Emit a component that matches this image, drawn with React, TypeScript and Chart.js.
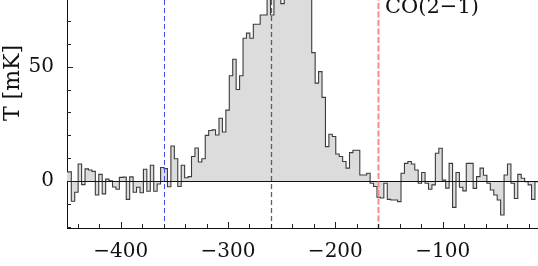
import React, { useEffect, useRef } from "react";
import { Chart, registerables } from "chart.js";

Chart.register(...registerables);

// Channel centre velocities (km/s)
const velocities = [
  -450.8, -447.6, -444.4, -441.2, -438.0, -434.8, -431.6, -428.4, -425.2, -422.0,
  -418.8, -415.6, -412.4, -409.2, -406.0, -402.8, -399.6, -396.4, -393.2, -390.0,
  -386.8, -383.6, -380.4, -377.2, -374.0, -370.8, -367.6, -364.4, -361.2, -358.0,
  -354.8, -351.6, -348.4, -345.2, -342.0, -338.8, -335.6, -332.4, -329.2, -326.0,
  -322.8, -319.6, -316.4, -313.2, -310.0, -306.8, -303.6, -300.4, -297.2, -294.0,
  -290.8, -287.6, -284.4, -281.2, -278.0, -274.8, -271.6, -268.4, -265.2, -262.0,
  -258.8, -255.6, -252.4, -249.2, -246.0, -242.8, -239.6, -236.4, -233.2, -230.0,
  -226.8, -223.6, -220.4, -217.2, -214.0, -210.8, -207.6, -204.4, -201.2, -198.0,
  -194.8, -191.6, -188.4, -185.2, -182.0, -178.8, -175.6, -172.4, -169.2, -166.0,
  -162.8, -159.6, -156.4, -153.2, -150.0, -146.8, -143.6, -140.4, -137.2, -134.0,
  -130.8, -127.6, -124.4, -121.2, -118.0, -114.8, -111.6, -108.4, -105.2, -102.0,
  -98.8, -95.6, -92.4, -89.2, -86.0, -82.8, -79.6, -76.4, -73.2, -70.0,
  -66.8, -63.6, -60.4, -57.2, -54.0, -50.8, -47.6, -44.4, -41.2, -38.0,
  -34.8, -31.6, -28.4, -25.2, -22.0, -18.8, -15.6, -12.4, -9.2,
];

// Antenna temperature per channel (mK)
const temperatures = [
  4.1, 4.1, -8.7, -4.8, 7.5, -1.5, 5.4, 4.9, 4.3, -6.0,
  3.0, -5.5, 0.9, 0.2, -2.5, -3.5, 1.7, 1.8, -7.9, 1.9,
  -4.8, -2.6, -5.0, 5.2, -4.4, 7.0, -4.4, -1.2, 6.0, 5.5,
  -2.4, 15.4, 9.8, -2.3, 7.0, 1.5, 2.0, 10.8, 14.5, 8.4,
  9.8, 20.0, 22.1, 22.4, 20.2, 27.5, 21.5, 31.0, 46.0, 53.2,
  40.0, 46.0, 62.4, 64.6, 62.4, 68.5, 68.5, 72.5, 72.5, 82.0,
  72.5, 85.0, 88.0, 77.5, 90.0, 95.0, 98.0, 93.0, 96.0, 91.0,
  88.0, 84.0, 56.1, 42.8, 47.8, 36.6, 15.1, 20.5, 19.5, 11.9,
  10.8, 8.6, 5.7, 12.5, 13.5, 13.5, 2.7, 2.7, 3.5, -0.9,
  -2.3, -7.0, -7.3, -0.9, -7.9, -8.2, -8.2, -8.9, 3.5, 7.8,
  8.6, 7.5, 4.9, -0.9, 3.8, -0.9, -3.5, -1.6, 12.2, 14.4,
  0.5, -3.0, 7.8, -11.4, 3.8, -2.6, -4.2, 7.8, 7.8, -3.1,
  2.0, 5.7, 2.6, -0.9, -3.8, -6.0, -8.2, -14.7, 2.7, 7.5,
  -0.9, -7.5, 3.0, 1.3, -0.2, -1.6, -7.9, -0.2, -0.2,
];

const xLabelledTicks = [-400, -300, -200, -100];
const yLabelledTicks = [0, 50];
const markerVelocities = [-360, -260, -160];
const lineName = "CO(2\u22121)";
const yTitle = "T [mK]";

const FONT = "'DejaVu Serif', serif";

export default function App() {
  const ref = useRef<HTMLCanvasElement>(null);

  useEffect(() => {
    const canvas = ref.current;
    if (!canvas) return;

    const markerStyles = [
      { color: "rgb(70,70,255)", width: 1, dash: [5, 3] },
      { color: "rgb(95,95,95)", width: 1.3, dash: [5, 3] },
      { color: "rgb(255,140,140)", width: 2, dash: [6, 2.5] },
    ];

    const overlay = {
      id: "overlay",
      afterDatasetsDraw(chart: any) {
        const { ctx, chartArea: a, scales } = chart;
        const xs = scales.x;
        const ys = scales.y;
        ctx.save();
        // zero line
        const y0 = Math.round(ys.getPixelForValue(0)) + 0.5;
        ctx.strokeStyle = "#111";
        ctx.lineWidth = 1;
        ctx.beginPath();
        ctx.moveTo(a.left, y0);
        ctx.lineTo(a.right, y0);
        ctx.stroke();

        // dashed marker lines
        markerVelocities.forEach((v, i) => {
          const st = markerStyles[i];
          const px = Math.round(xs.getPixelForValue(v)) + 0.5;
          ctx.strokeStyle = st.color;
          ctx.lineWidth = st.width;
          ctx.setLineDash(st.dash);
          ctx.beginPath();
          ctx.moveTo(px, a.top);
          ctx.lineTo(px, a.bottom);
          ctx.stroke();
        });
        ctx.setLineDash([]);

        // inward tick marks
        ctx.strokeStyle = "#222";
        ctx.lineWidth = 1;
        ctx.beginPath();
        for (let v = Math.ceil(xs.min / 20) * 20; v <= xs.max; v += 20) {
          const px = Math.round(xs.getPixelForValue(v)) + 0.5;
          const len = v % 100 === 0 ? 6 : 4;
          ctx.moveTo(px, a.bottom);
          ctx.lineTo(px, a.bottom - len);
        }
        for (let v = Math.ceil(ys.min / 10) * 10; v <= ys.max; v += 10) {
          const py = Math.round(ys.getPixelForValue(v)) + 0.5;
          const len = v % 50 === 0 ? 6 : 4;
          ctx.moveTo(a.left, py);
          ctx.lineTo(a.left + len, py);
        }
        ctx.stroke();
        ctx.restore();
      },
      afterDraw(chart: any) {
        const { ctx } = chart;
        ctx.save();
        ctx.fillStyle = "#111";
        ctx.font = "21px " + FONT;
        ctx.textAlign = "left";
        ctx.textBaseline = "alphabetic";
        ctx.fillText(lineName, 385, 60.5);

        ctx.font = "22px " + FONT;
        ctx.translate(19, 131);
        ctx.rotate(-Math.PI / 2);
        ctx.textAlign = "center";
        ctx.fillText(yTitle, 0, 0);
        ctx.restore();
      },
    };

    const chart = new Chart(canvas, {
      type: "line",
      data: {
        datasets: [
          {
            data: velocities.map((v, i) => ({ x: v, y: temperatures[i] })),
            stepped: "middle",
            borderColor: "#3c3c3c",
            borderWidth: 1.1,
            backgroundColor: "rgb(220,220,220)",
            fill: "origin",
            pointRadius: 0,
            tension: 0,
          },
        ],
      },
      options: {
        responsive: false,
        animation: false,
        layout: { padding: 0 },
        plugins: {
          legend: { display: false },
          tooltip: { enabled: false },
          title: { display: false },
        },
        scales: {
          x: {
            type: "linear",
            min: -450,
            max: 0,
            grid: { drawOnChartArea: false, drawTicks: false },
            border: { display: true, color: "#111", width: 1 },
            ticks: {
              stepSize: 20,
              autoSkip: false,
              maxRotation: 0,
              padding: 12,
              color: "#111",
              font: { family: FONT, size: 20 },
              callback: (value: any) =>
                xLabelledTicks.includes(Number(value))
                  ? "\u2212" + Math.abs(Number(value))
                  : "",
            },
            afterFit: (scale: any) => {
              scale.height = 38;
              scale.paddingLeft = 0;
              scale.paddingRight = 0;
              scale.paddingTop = 0;
              scale.paddingBottom = 0;
            },
          },
          y: {
            type: "linear",
            min: -20.4,
            max: 100,
            grid: { drawOnChartArea: false, drawTicks: false },
            border: { display: true, color: "#111", width: 1 },
            ticks: {
              stepSize: 10,
              autoSkip: false,
              padding: 13,
              color: "#111",
              font: { family: FONT, size: 20 },
              callback: (value: any) =>
                yLabelledTicks.includes(Number(value)) ? String(value) : "",
            },
            afterFit: (scale: any) => {
              scale.width = 67;
              scale.paddingLeft = 0;
              scale.paddingRight = 0;
              scale.paddingTop = 0;
              scale.paddingBottom = 0;
            },
          },
        },
      },
      plugins: [overlay],
    });

    return () => chart.destroy();
  }, []);

  return (
    <div
      style={{
        position: "fixed",
        left: 0,
        top: 0,
        width: 538,
        height: 266,
        overflow: "hidden",
        background: "#fff",
      }}
    >
      <canvas
        ref={ref}
        width={550}
        height={314}
        style={{ position: "absolute", left: 0, top: -48, width: 550, height: 314 }}
      />
    </div>
  );
}
